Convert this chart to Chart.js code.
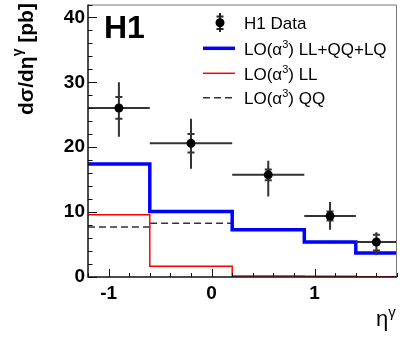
<!DOCTYPE html>
<html>
<head>
<meta charset="utf-8">
<script src="https://cdn.jsdelivr.net/npm/chart.js@4"></script>
<style>
html, body { margin: 0; padding: 0; background: #fff; }
canvas { display: block; }
</style>
</head>
<body>
<canvas id="chart" width="415" height="340"></canvas>
<script>
'use strict';

// eta^gamma bins and H1 measurement
const binEdges = [-1.2, -0.6, 0.2, 0.9, 1.4, 1.8];
const dataEta = [-0.9, -0.2, 0.55, 1.15, 1.6];
const dataXsec = [26.05, 20.6, 15.75, 9.4, 5.4];
const statLow = [24.4, 19.2, 14.9, 8.7, 4.1];
const statHigh = [27.75, 22.05, 16.55, 10.1, 6.5];
const totLow = [21.6, 16.7, 12.4, 7.3, 3.35];
const totHigh = [30.0, 24.4, 17.9, 11.55, 6.9];

// LO(alpha^3) predictions per bin
const loAll = [17.4, 10.1, 7.3, 5.4, 3.7];
const loLL = [9.6, 1.65, 0.15, 0.1, 0.05];
const loQQ = [7.7, 8.3, 7.4, 5.3, 3.65];

const xTicks = [-1, 0, 1];
const yTicks = [0, 10, 20, 30, 40];

const FONT = '"Liberation Sans", Arial, Helvetica, sans-serif';
Chart.defaults.font.family = FONT;

const steps = values => binEdges.map((edge, i) => ({ x: edge, y: values[Math.min(i, values.length - 1)] }));

const drawParts = (ctx, parts, x, y) => {
	for (const p of parts) {
		ctx.font = `${p.bold ? 'bold ' : ''}${p.size}px ${FONT}`;
		ctx.fillText(p.text, x, y + (p.dy || 0));
		x += ctx.measureText(p.text).width;
	}
	return x;
};

const loLabel = rest => [
	{ text: 'LO(α', size: 17 },
	{ text: '3', size: 11, dy: -7 },
	{ text: ') ' + rest, size: 17 }
];

const errorBars = {
	id: 'errorBars',
	beforeDatasetDraw(chart, args) {
		if (args.index !== 0) {
			return;
		}
		const { ctx, scales: { x, y } } = chart;
		ctx.save();
		ctx.strokeStyle = '#333';
		ctx.lineWidth = 2;
		ctx.beginPath();
		dataEta.forEach((eta, i) => {
			const px = x.getPixelForValue(eta);
			const py = y.getPixelForValue(dataXsec[i]);
			ctx.moveTo(x.getPixelForValue(binEdges[i]), py);
			ctx.lineTo(x.getPixelForValue(binEdges[i + 1]), py);
			ctx.moveTo(px, y.getPixelForValue(totLow[i]));
			ctx.lineTo(px, y.getPixelForValue(totHigh[i]));
			for (const v of [statLow[i], statHigh[i]]) {
				ctx.moveTo(px - 3.5, y.getPixelForValue(v));
				ctx.lineTo(px + 3.5, y.getPixelForValue(v));
			}
		});
		ctx.stroke();
		ctx.restore();
	}
};

const frame = {
	id: 'frame',
	afterDatasetsDraw(chart) {
		const { ctx, chartArea: a, scales: { x, y } } = chart;
		ctx.save();
		ctx.strokeStyle = '#777';
		ctx.lineWidth = 1;
		ctx.beginPath();
		ctx.moveTo(a.left, a.top + 0.5);
		ctx.lineTo(a.right - 0.5, a.top + 0.5);
		ctx.lineTo(a.right - 0.5, a.bottom);
		ctx.stroke();

		ctx.strokeStyle = '#111';
		ctx.lineWidth = 1.5;
		ctx.beginPath();
		ctx.moveTo(a.left, a.top);
		ctx.lineTo(a.left, a.bottom);
		ctx.lineTo(a.right, a.bottom);
		ctx.stroke();

		// ticks inside the frame, ROOT style
		ctx.lineWidth = 1;
		ctx.beginPath();
		for (let v = 0; v <= 42; v += 2) {
			const py = Math.round(y.getPixelForValue(v)) + 0.5;
			ctx.moveTo(a.left, py);
			ctx.lineTo(a.left + (v % 10 === 0 ? 9 : 4.5), py);
		}
		for (let k = -6; k <= 9; k++) {
			const px = Math.round(x.getPixelForValue(k / 5)) + 0.5;
			ctx.moveTo(px, a.bottom);
			ctx.lineTo(px, a.bottom - (k % 5 === 0 ? 8 : 4));
		}
		ctx.stroke();
		ctx.restore();
	}
};

const annotations = {
	id: 'annotations',
	afterDraw(chart) {
		const { ctx } = chart;
		ctx.save();
		ctx.fillStyle = '#000';
		ctx.textBaseline = 'alphabetic';

		ctx.font = `bold 32px ${FONT}`;
		ctx.fillText('H1', 104, 38);

		// y title, rotated
		ctx.save();
		ctx.translate(33, 115);
		ctx.rotate(-Math.PI / 2);
		drawParts(ctx, [
			{ text: 'dσ/dη', size: 21, bold: true },
			{ text: 'γ', size: 14, bold: true, dy: -11 },
			{ text: ' [pb]', size: 21, bold: true }
		], 0, 0);
		ctx.restore();

		// x title
		drawParts(ctx, [
			{ text: 'η', size: 22 },
			{ text: 'γ', size: 15, dy: -9 }
		], 376, 326);

		// legend
		const lx = 244;
		const symX0 = 203, symX1 = 235, symC = 220;
		ctx.strokeStyle = '#222';
		ctx.lineWidth = 2;
		ctx.beginPath();
		ctx.moveTo(symC, 13);
		ctx.lineTo(symC, 32);
		ctx.moveTo(symC - 3.5, 16.5);
		ctx.lineTo(symC + 3.5, 16.5);
		ctx.moveTo(symC - 3.5, 29);
		ctx.lineTo(symC + 3.5, 29);
		ctx.stroke();
		ctx.beginPath();
		ctx.arc(symC, 22.7, 4.5, 0, Math.PI * 2);
		ctx.fill();
		drawParts(ctx, [{ text: 'H1 Data', size: 17 }], lx, 29);

		const lines = [
			{ y: 48.3, color: '#0000ff', width: 3.5, dash: [], label: 'LL+QQ+LQ' },
			{ y: 73.3, color: '#ff0000', width: 1.5, dash: [], label: 'LL' },
			{ y: 97.7, color: '#333', width: 1.5, dash: [7, 4], label: 'QQ' }
		];
		for (const l of lines) {
			ctx.strokeStyle = l.color;
			ctx.lineWidth = l.width;
			ctx.setLineDash(l.dash);
			ctx.beginPath();
			ctx.moveTo(symX0, l.y);
			ctx.lineTo(symX1, l.y);
			ctx.stroke();
			ctx.setLineDash([]);
			drawParts(ctx, loLabel(l.label), lx, l.y + 6.5);
		}
		ctx.restore();
	}
};

new Chart(document.getElementById('chart'), {
	type: 'scatter',
	data: {
		datasets: [
			{
				label: 'H1 Data',
				data: dataEta.map((eta, i) => ({ x: eta, y: dataXsec[i] })),
				pointRadius: 4.5,
				pointBackgroundColor: '#000',
				pointBorderWidth: 0,
				order: 0
			},
			{
				type: 'line',
				label: 'LO LL+QQ+LQ',
				data: steps(loAll),
				stepped: true,
				borderColor: '#0000ff',
				borderWidth: 3.5,
				pointRadius: 0,
				fill: false,
				order: 1
			},
			{
				type: 'line',
				label: 'LO LL',
				data: steps(loLL),
				stepped: true,
				borderColor: '#ff0000',
				borderWidth: 1.5,
				pointRadius: 0,
				fill: false,
				order: 2
			},
			{
				type: 'line',
				label: 'LO QQ',
				data: steps(loQQ),
				stepped: true,
				borderColor: '#333',
				borderWidth: 1.5,
				borderDash: [7, 4],
				pointRadius: 0,
				fill: false,
				order: 3
			}
		]
	},
	options: {
		responsive: false,
		animation: false,
		devicePixelRatio: 1,
		layout: {
			padding: { top: 3, right: 18, left: 0, bottom: 0 }
		},
		plugins: {
			legend: { display: false },
			tooltip: { enabled: false }
		},
		scales: {
			x: {
				type: 'linear',
				min: -1.2,
				max: 1.8,
				grid: { display: false, drawTicks: false },
				border: { display: false },
				ticks: {
					color: '#000',
					padding: 5,
					font: { size: 19, weight: 'bold' }
				},
				afterBuildTicks: scale => {
					scale.ticks = xTicks.map(v => ({ value: v }));
				},
				afterFit: scale => {
					scale.height = 63;
					scale.paddingLeft = 0;
					scale.paddingRight = 0;
				}
			},
			y: {
				min: 0,
				max: 42,
				grid: { display: false, drawTicks: false },
				border: { display: false },
				ticks: {
					color: '#000',
					padding: 3,
					font: { size: 19, weight: 'bold' }
				},
				afterBuildTicks: scale => {
					scale.ticks = yTicks.map(v => ({ value: v }));
				},
				afterFit: scale => {
					scale.width = 88;
					scale.paddingTop = 0;
					scale.paddingBottom = 0;
				}
			}
		}
	},
	plugins: [errorBars, frame, annotations]
});
</script>
</body>
</html>
